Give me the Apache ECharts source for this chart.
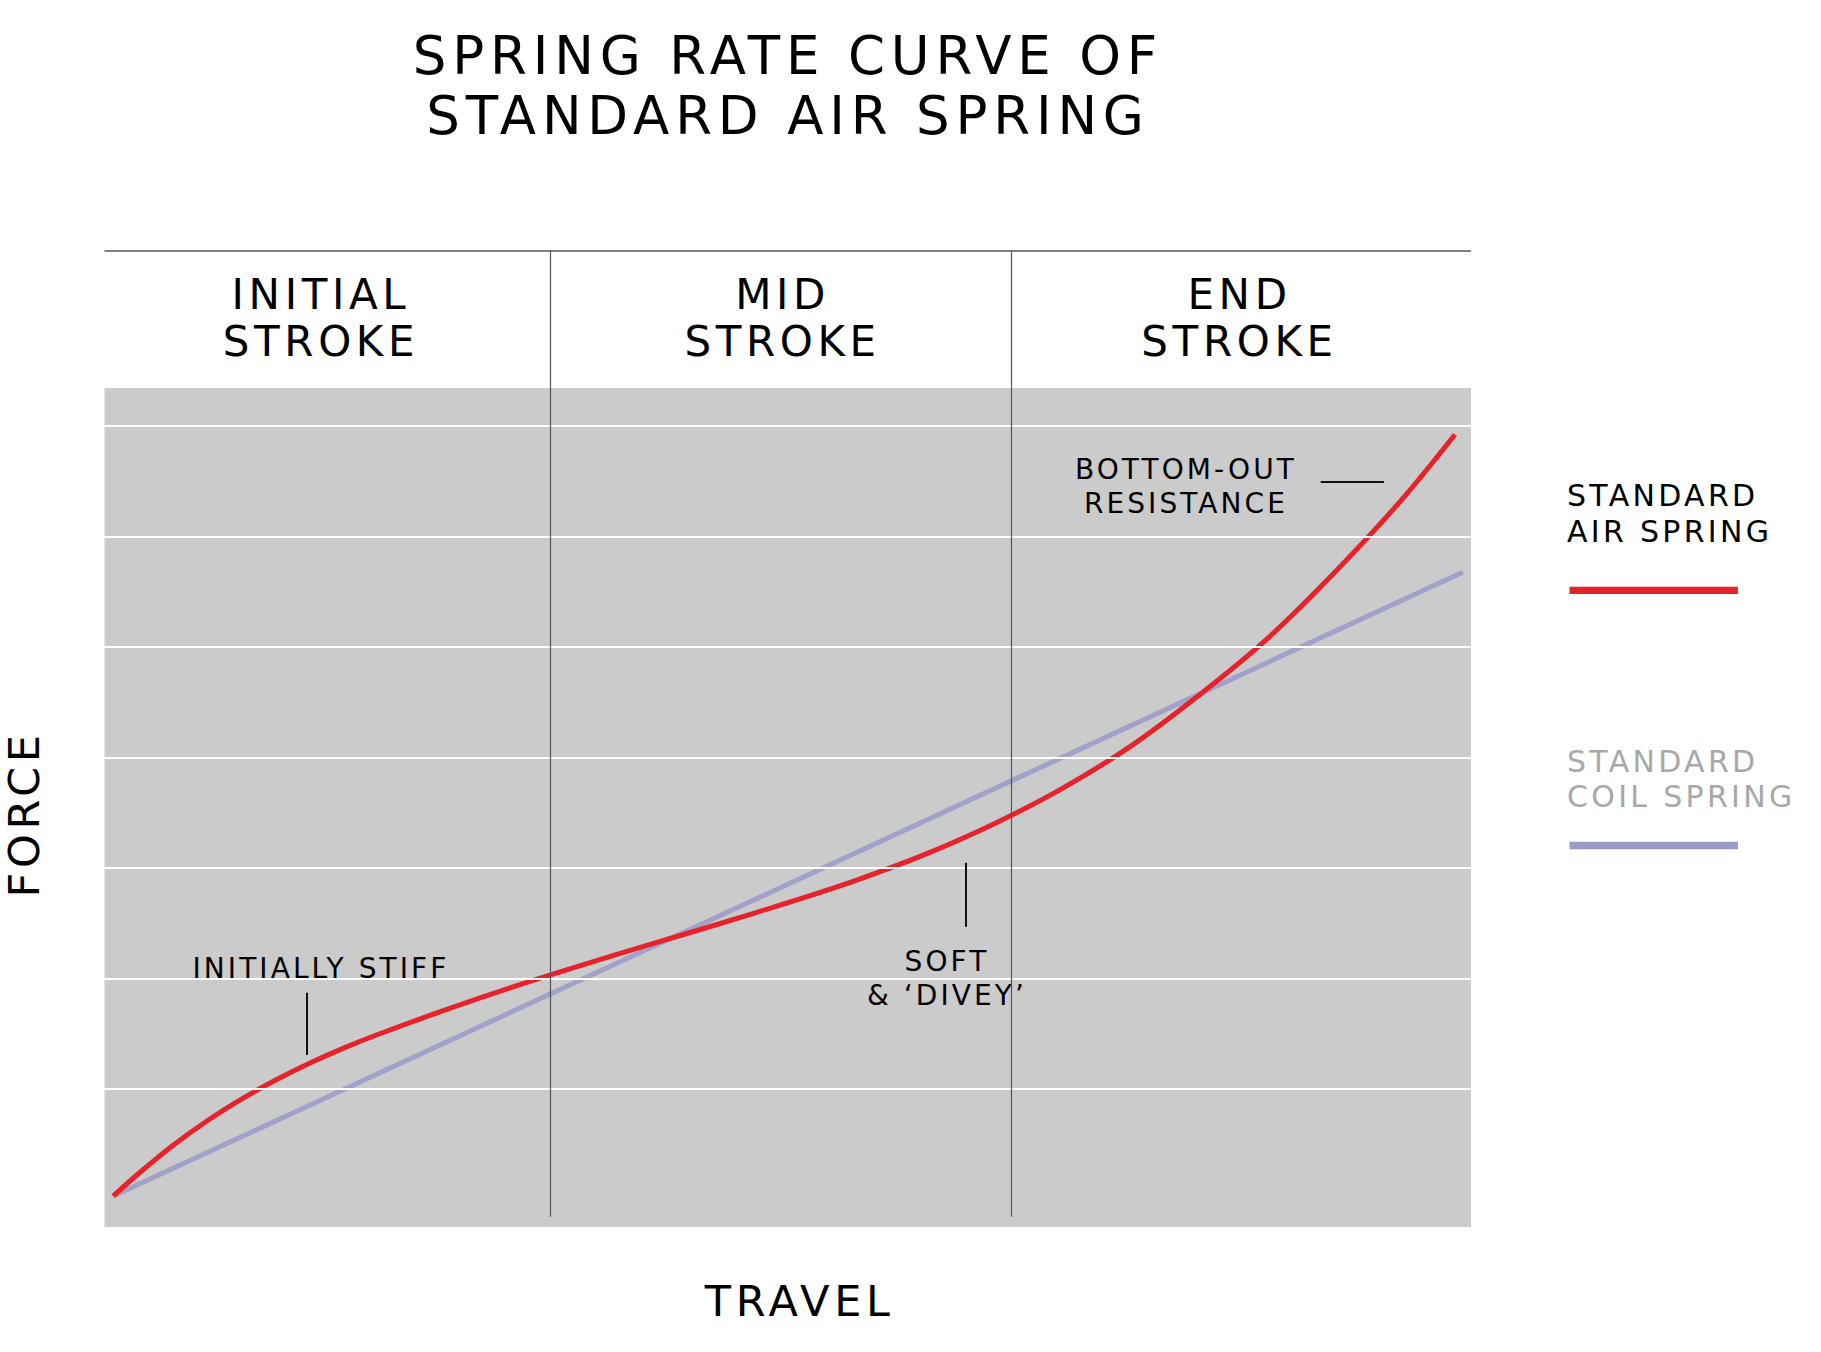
<!DOCTYPE html>
<html><head><meta charset="utf-8">
<script src="https://cdn.jsdelivr.net/npm/echarts@6/dist/echarts.min.js"></script>
<style>
html,body{margin:0;padding:0;background:#fff}
#chart{width:1821px;height:1352px}
#chart text{letter-spacing:0.11em}
</style>
</head><body><div id="chart"></div>
<script>
// ---- data (travel: 0..100 across the plot, force: arbitrary units, gridlines at 1..7) ----
const airSpringTravel = [0.64, 2.5, 5, 7.5, 10, 12.5, 15, 17.5, 20, 25, 30, 35, 40, 45, 50, 55, 60, 65, 70, 75, 80, 85, 90, 95, 98.83];
const airSpringForce  = [0.032, 0.236, 0.489, 0.711, 0.906, 1.079, 1.233, 1.370, 1.493, 1.718, 1.928, 2.123, 2.310, 2.495, 2.685, 2.888, 3.120, 3.393, 3.713, 4.093, 4.553, 5.063, 5.670, 6.340, 6.920];
const coilSpringTravel = [0.64, 99.39];
const coilSpringForce  = [0.032, 5.674];
const gridForce = [1, 2, 3, 4, 5, 6, 7];
const strokeDividers = [32.64, 66.37];
const strokeNames = ['INITIAL\nSTROKE', 'MID\nSTROKE', 'END\nSTROKE'];
const strokeNameTravel = [15.84, 49.62, 83.06];
const noteText = ['INITIALLY STIFF', 'SOFT\n& \u2018DIVEY\u2019', 'BOTTOM-OUT\nRESISTANCE'];
const noteTravel = [15.84, 61.65, 79.14];
const noteForce = [2.092, 2.001, 6.447];
const noteTicks = [[[14.80, 1.871], [14.80, 1.308]], [[63.02, 3.047], [63.02, 2.468]], [[89.0, 6.494], [93.63, 6.494]]];
const seriesNames = ['STANDARD AIR SPRING', 'STANDARD COIL SPRING'];

const FORCE_MIN = -0.248, PLOT_TOP = 7.341, HEADER_TOP = 8.583, DIVIDER_BOTTOM = -0.155, HEADER_MID = 7.977;
const FONT = 'DejaVu Sans';
const INK = '#000000';
const RED = '#e8222b', BLUE = '#a1a1c9', BLUE_LEG = '#9b9bcb';

const chart = echarts.init(document.getElementById('chart'), null, {renderer: 'svg'});

const labelItems = [];
strokeNames.forEach((t, i) => labelItems.push({
  value: [strokeNameTravel[i], HEADER_MID, t],
  label: {fontSize: 42, lineHeight: 47}
}));
noteText.forEach((t, i) => labelItems.push({
  value: [noteTravel[i], noteForce[i], t],
  label: {fontSize: 28, lineHeight: 34}
}));

const frameLines = [];
gridForce.forEach(v => frameLines.push({yAxis: v, lineStyle: {color: '#ffffff', width: 2, type: 'solid'}}));
frameLines.push({yAxis: HEADER_TOP, lineStyle: {color: '#555555', width: 1.5, type: 'solid'}});
strokeDividers.forEach(x => frameLines.push([
  {coord: [x, DIVIDER_BOTTOM], lineStyle: {color: '#555555', width: 1.2, type: 'solid'}},
  {coord: [x, HEADER_TOP]}
]));
noteTicks.forEach(seg => frameLines.push([
  {coord: seg[0], lineStyle: {color: '#111111', width: 2, type: 'solid'}},
  {coord: seg[1]}
]));

chart.setOption({
  animation: false,
  backgroundColor: '#ffffff',
  textStyle: {fontFamily: FONT},
  grid: {left: 104.5, right: 350, top: 250.7, bottom: 125, containLabel: false},
  xAxis: {
    type: 'value', min: 0, max: 100,
    name: 'TRAVEL', nameLocation: 'middle', nameGap: 52,
    nameTextStyle: {fontFamily: FONT, fontSize: 43, color: INK, padding: [0, 0, 0, 24]},
    axisLine: {show: false}, axisTick: {show: false}, axisLabel: {show: false}, splitLine: {show: false}
  },
  yAxis: {
    type: 'value', min: FORCE_MIN, max: HEADER_TOP,
    axisLine: {show: false}, axisTick: {show: false}, axisLabel: {show: false}, splitLine: {show: false}
  },
  series: [
    {
      name: 'frame', type: 'scatter', z: 1, silent: true,
      symbolSize: 0, itemStyle: {color: INK, opacity: 1},
      data: labelItems,
      label: {show: true, position: 'inside', color: INK, opacity: 1, fontFamily: FONT,
        formatter: p => p.value[2]},
      markArea: {silent: true, itemStyle: {color: '#cbcbcb'},
        data: [[{coord: [0, FORCE_MIN]}, {coord: [100, PLOT_TOP]}]]},
      markLine: {silent: true, symbol: ['none', 'none'], label: {show: false}, data: frameLines}
    },
    {
      name: seriesNames[1], type: 'line', z: 3, showSymbol: false, symbol: 'none',
      lineStyle: {color: BLUE, width: 5}, itemStyle: {color: BLUE},
      data: coilSpringTravel.map((x, i) => [x, coilSpringForce[i]])
    },
    {
      name: seriesNames[0], type: 'line', z: 4, showSymbol: false, symbol: 'none',
      smooth: 0.3,
      lineStyle: {color: RED, width: 5}, itemStyle: {color: RED},
      data: airSpringTravel.map((x, i) => [x, airSpringForce[i]])
    }
  ],
  graphic: [
    {type: 'text', style: {text: 'SPRING RATE CURVE OF', x: 788, y: 55, align: 'center', verticalAlign: 'middle', font: '53px "DejaVu Sans"', fill: INK}},
    {type: 'text', style: {text: 'STANDARD AIR SPRING', x: 788, y: 115, align: 'center', verticalAlign: 'middle', font: '53px "DejaVu Sans"', fill: INK}},
    {type: 'text', x: 24, y: 814, rotation: Math.PI / 2, style: {text: 'FORCE', x: 0, y: 0, align: 'center', verticalAlign: 'middle', font: '43px "DejaVu Sans"', fill: INK}},
    {type: 'text', style: {text: 'STANDARD', x: 1567, y: 495, align: 'left', verticalAlign: 'middle', font: '30px "DejaVu Sans"', fill: INK}},
    {type: 'text', style: {text: 'AIR SPRING', x: 1567, y: 531, align: 'left', verticalAlign: 'middle', font: '30px "DejaVu Sans"', fill: INK}},
    {type: 'rect', shape: {x: 1569.5, y: 586.7, width: 168.4, height: 7.3}, style: {fill: RED}},
    {type: 'text', style: {text: 'STANDARD', x: 1567, y: 761, align: 'left', verticalAlign: 'middle', font: '30px "DejaVu Sans"', fill: '#a8a8a8'}},
    {type: 'text', style: {text: 'COIL SPRING', x: 1567, y: 796, align: 'left', verticalAlign: 'middle', font: '30px "DejaVu Sans"', fill: '#a8a8a8'}},
    {type: 'rect', shape: {x: 1569.5, y: 841.7, width: 168.4, height: 7.6}, style: {fill: BLUE_LEG}}
  ]
});
</script></body></html>
